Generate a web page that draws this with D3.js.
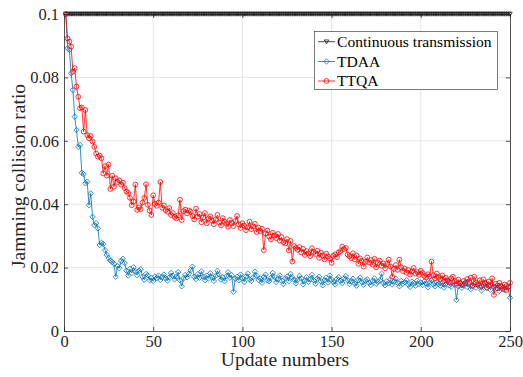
<!DOCTYPE html>
<html>
<head>
<meta charset="utf-8">
<script src="https://cdn.jsdelivr.net/npm/d3@7"></script>
<style>
  html, body { margin: 0; padding: 0; background: #fff; }
  svg { display: block; }
  svg text { font-family: "Times New Roman", "Liberation Serif", "DejaVu Serif", serif !important; }
</style>
</head>
<body>
<svg id="chart" width="523" height="377"></svg>
<script>
// Update indices 1..250 on the x axis
const updates = d3.range(1, 251);

const xTicks = [0, 50, 100, 150, 200, 250];
const yTicks = [0, 0.02, 0.04, 0.06, 0.08, 0.1];
const yTickLabels = ["0", "0.02", "0.04", "0.06", "0.08", "0.1"];

const seriesNames = ["Continuous transmission", "TDAA", "TTQA"];

// Continuous transmission: always colliding at the maximum ratio
const continuousValues = [
  0.1,0.1,0.1,0.1,0.1,0.1,0.1,0.1,0.1,0.1,0.1,0.1,0.1,0.1,0.1,0.1,0.1,0.1,0.1,0.1,0.1,0.1,0.1,0.1,0.1,
  0.1,0.1,0.1,0.1,0.1,0.1,0.1,0.1,0.1,0.1,0.1,0.1,0.1,0.1,0.1,0.1,0.1,0.1,0.1,0.1,0.1,0.1,0.1,0.1,0.1,
  0.1,0.1,0.1,0.1,0.1,0.1,0.1,0.1,0.1,0.1,0.1,0.1,0.1,0.1,0.1,0.1,0.1,0.1,0.1,0.1,0.1,0.1,0.1,0.1,0.1,
  0.1,0.1,0.1,0.1,0.1,0.1,0.1,0.1,0.1,0.1,0.1,0.1,0.1,0.1,0.1,0.1,0.1,0.1,0.1,0.1,0.1,0.1,0.1,0.1,0.1,
  0.1,0.1,0.1,0.1,0.1,0.1,0.1,0.1,0.1,0.1,0.1,0.1,0.1,0.1,0.1,0.1,0.1,0.1,0.1,0.1,0.1,0.1,0.1,0.1,0.1,
  0.1,0.1,0.1,0.1,0.1,0.1,0.1,0.1,0.1,0.1,0.1,0.1,0.1,0.1,0.1,0.1,0.1,0.1,0.1,0.1,0.1,0.1,0.1,0.1,0.1,
  0.1,0.1,0.1,0.1,0.1,0.1,0.1,0.1,0.1,0.1,0.1,0.1,0.1,0.1,0.1,0.1,0.1,0.1,0.1,0.1,0.1,0.1,0.1,0.1,0.1,
  0.1,0.1,0.1,0.1,0.1,0.1,0.1,0.1,0.1,0.1,0.1,0.1,0.1,0.1,0.1,0.1,0.1,0.1,0.1,0.1,0.1,0.1,0.1,0.1,0.1,
  0.1,0.1,0.1,0.1,0.1,0.1,0.1,0.1,0.1,0.1,0.1,0.1,0.1,0.1,0.1,0.1,0.1,0.1,0.1,0.1,0.1,0.1,0.1,0.1,0.1,
  0.1,0.1,0.1,0.1,0.1,0.1,0.1,0.1,0.1,0.1,0.1,0.1,0.1,0.1,0.1,0.1,0.1,0.1,0.1,0.1,0.1,0.1,0.1,0.1,0.1
];

const tdaaValues = [
  0.1000,0.0892,0.0887,0.0813,0.0760,0.0676,0.0634,0.0581,0.0587,0.0499,
  0.0495,0.0466,0.0471,0.0397,0.0434,0.0360,0.0334,0.0340,0.0324,0.0271,
  0.0278,0.0275,0.0255,0.0240,0.0230,0.0222,0.0218,0.0212,0.0171,0.0205,
  0.0198,0.0221,0.0228,0.0214,0.0190,0.0175,0.0196,0.0183,0.0201,0.0188,
  0.0176,0.0190,0.0195,0.0171,0.0162,0.0180,0.0176,0.0160,0.0168,0.0158,
  0.0172,0.0167,0.0175,0.0161,0.0170,0.0178,0.0166,0.0159,0.0169,0.0183,
  0.0174,0.0163,0.0171,0.0186,0.0160,0.0141,0.0166,0.0177,0.0169,0.0180,
  0.0192,0.0203,0.0171,0.0164,0.0179,0.0168,0.0188,0.0172,0.0160,0.0175,
  0.0166,0.0182,0.0170,0.0158,0.0174,0.0190,0.0178,0.0162,0.0169,0.0157,
  0.0173,0.0185,0.0168,0.0176,0.0124,0.0165,0.0171,0.0160,0.0178,0.0167,
  0.0155,0.0172,0.0181,0.0163,0.0158,0.0169,0.0187,0.0174,0.0161,0.0166,
  0.0152,0.0170,0.0178,0.0160,0.0157,0.0168,0.0183,0.0171,0.0154,0.0163,
  0.0175,0.0159,0.0148,0.0166,0.0172,0.0157,0.0180,0.0169,0.0162,0.0150,
  0.0161,0.0174,0.0166,0.0147,0.0158,0.0170,0.0155,0.0163,0.0177,0.0160,
  0.0149,0.0165,0.0171,0.0157,0.0144,0.0160,0.0168,0.0153,0.0175,0.0162,
  0.0155,0.0147,0.0164,0.0170,0.0158,0.0151,0.0166,0.0173,0.0160,0.0148,
  0.0157,0.0165,0.0150,0.0143,0.0161,0.0168,0.0154,0.0146,0.0159,0.0163,
  0.0152,0.0145,0.0158,0.0166,0.0149,0.0155,0.0160,0.0181,0.0151,0.0144,
  0.0157,0.0150,0.0162,0.0147,0.0155,0.0165,0.0152,0.0141,0.0158,0.0149,
  0.0154,0.0161,0.0146,0.0139,0.0156,0.0151,0.0143,0.0159,0.0148,0.0153,
  0.0145,0.0157,0.0150,0.0138,0.0152,0.0160,0.0147,0.0141,0.0155,0.0149,
  0.0143,0.0151,0.0137,0.0148,0.0156,0.0144,0.0140,0.0152,0.0146,0.0098,
  0.0141,0.0150,0.0136,0.0145,0.0153,0.0139,0.0147,0.0132,0.0143,0.0149,
  0.0137,0.0146,0.0140,0.0128,0.0144,0.0151,0.0135,0.0142,0.0130,0.0147,
  0.0139,0.0133,0.0145,0.0126,0.0141,0.0136,0.0129,0.0143,0.0138,0.0105
];

const ttqaValues = [
  0.1000,0.0923,0.0913,0.0897,0.0818,0.0829,0.0771,0.0739,0.0703,0.0705,
  0.0629,0.0697,0.0618,0.0608,0.0615,0.0598,0.0581,0.0560,0.0550,0.0553,
  0.0545,0.0497,0.0520,0.0490,0.0525,0.0448,0.0490,0.0455,0.0482,0.0470,
  0.0475,0.0462,0.0468,0.0451,0.0440,0.0435,0.0420,0.0397,0.0408,0.0462,
  0.0382,0.0390,0.0384,0.0405,0.0420,0.0463,0.0398,0.0380,0.0366,0.0428,
  0.0401,0.0395,0.0405,0.0470,0.0389,0.0396,0.0381,0.0376,0.0388,0.0366,
  0.0372,0.0360,0.0355,0.0365,0.0414,0.0350,0.0378,0.0383,0.0371,0.0380,
  0.0376,0.0363,0.0352,0.0386,0.0361,0.0369,0.0343,0.0358,0.0372,0.0340,
  0.0355,0.0362,0.0348,0.0337,0.0351,0.0366,0.0342,0.0333,0.0356,0.0345,
  0.0338,0.0329,0.0350,0.0341,0.0331,0.0347,0.0363,0.0336,0.0325,0.0340,
  0.0332,0.0318,0.0327,0.0345,0.0321,0.0330,0.0338,0.0312,0.0326,0.0315,
  0.0322,0.0255,0.0308,0.0317,0.0298,0.0289,0.0310,0.0301,0.0293,0.0306,
  0.0285,0.0296,0.0280,0.0276,0.0290,0.0254,0.0284,0.0219,0.0268,0.0262,
  0.0256,0.0265,0.0248,0.0259,0.0240,0.0252,0.0245,0.0236,0.0261,0.0249,
  0.0243,0.0253,0.0231,0.0247,0.0238,0.0226,0.0244,0.0235,0.0229,0.0215,
  0.0237,0.0242,0.0233,0.0248,0.0252,0.0266,0.0258,0.0262,0.0241,0.0236,
  0.0230,0.0245,0.0226,0.0238,0.0212,0.0229,0.0221,0.0203,0.0218,0.0232,
  0.0216,0.0224,0.0209,0.0228,0.0201,0.0215,0.0222,0.0206,0.0213,0.0198,
  0.0211,0.0225,0.0204,0.0171,0.0196,0.0208,0.0193,0.0225,0.0201,0.0189,
  0.0197,0.0184,0.0192,0.0178,0.0188,0.0199,0.0181,0.0186,0.0177,0.0190,
  0.0183,0.0174,0.0169,0.0179,0.0172,0.0219,0.0176,0.0165,0.0181,0.0170,
  0.0163,0.0175,0.0158,0.0168,0.0160,0.0154,0.0166,0.0171,0.0157,0.0149,
  0.0162,0.0152,0.0145,0.0158,0.0150,0.0164,0.0155,0.0168,0.0143,0.0171,
  0.0153,0.0147,0.0160,0.0142,0.0163,0.0151,0.0138,0.0156,0.0145,0.0166,
  0.0114,0.0149,0.0135,0.0152,0.0141,0.0133,0.0147,0.0129,0.0139,0.0152
];

const svg = d3.select("#chart");
const plot = { left: 64, right: 510, top: 14, bottom: 331 };

const x = d3.scaleLinear().domain([0, 250]).range([plot.left, plot.right]);
const y = d3.scaleLinear().domain([0, 0.1]).range([plot.bottom, plot.top]);

const axisColor = "#262626";
const gridColor = "#e6e6e6";
const serif = "'Times New Roman', 'Liberation Serif', 'DejaVu Serif', serif";

// Grid lines
const grid = svg.append("g").attr("class", "grid");
grid.selectAll("line.gx").data(xTicks.slice(1, -1)).join("line")
  .attr("x1", d => x(d)).attr("x2", d => x(d))
  .attr("y1", plot.top).attr("y2", plot.bottom)
  .attr("stroke", gridColor).attr("stroke-width", 1);
grid.selectAll("line.gy").data(yTicks.slice(1, -1)).join("line")
  .attr("x1", plot.left).attr("x2", plot.right)
  .attr("y1", d => y(d)).attr("y2", d => y(d))
  .attr("stroke", gridColor).attr("stroke-width", 1);

// Axes with inward ticks on all four sides
function styleAxis(g) {
  g.attr("font-family", serif).attr("font-size", 16.5);
  g.selectAll(".domain").attr("stroke", axisColor).attr("stroke-width", 0.8);
  g.selectAll(".tick line").attr("stroke", axisColor).attr("stroke-width", 0.8);
  g.selectAll(".tick text").attr("fill", axisColor);
}

svg.append("g").attr("transform", `translate(0,${plot.bottom})`)
  .call(d3.axisBottom(x).tickValues(xTicks).tickSizeInner(-4).tickSizeOuter(0).tickPadding(4))
  .call(styleAxis);
svg.append("g").attr("transform", `translate(${plot.left},0)`)
  .call(d3.axisLeft(y).tickValues(yTicks).tickFormat((d, i) => yTickLabels[i]).tickSizeInner(-4).tickSizeOuter(0).tickPadding(5))
  .call(styleAxis);
svg.append("g").attr("transform", `translate(0,${plot.top})`)
  .call(d3.axisTop(x).tickValues(xTicks).tickSizeInner(-4).tickSizeOuter(0).tickFormat(""))
  .call(styleAxis);
svg.append("g").attr("transform", `translate(${plot.right},0)`)
  .call(d3.axisRight(y).tickValues(yTicks).tickSizeInner(-4).tickSizeOuter(0).tickFormat(""))
  .call(styleAxis);

// Axis titles
svg.append("text")
  .attr("x", (plot.left + plot.right) / 2 - 2).attr("y", 366)
  .attr("text-anchor", "middle").attr("fill", axisColor)
  .attr("font-family", serif).attr("font-size", 19.5).text("Update numbers");
svg.append("text")
  .attr("transform", `translate(25,176) rotate(-90)`)
  .attr("text-anchor", "middle").attr("fill", axisColor)
  .attr("font-family", serif).attr("font-size", 19.5).text("Jamming collision ratio");

// Marker shapes
const diamond = r => `M0,${-r}L${r},0L0,${r}L${-r},0Z`;
const downTriangle = r => `M${-r},${-r * 0.8}L${r},${-r * 0.8}L0,${r}Z`;

const series = [
  { name: seriesNames[0], values: continuousValues, color: "#1a1a1a", marker: "tri" },
  { name: seriesNames[1], values: tdaaValues, color: "#0072BD", marker: "diamond" },
  { name: seriesNames[2], values: ttqaValues, color: "#FF0000", marker: "circle" }
];

const line = d3.line().x((d, i) => x(updates[i])).y(d => y(d));

function drawMarkers(g, s, pts) {
  if (s.marker === "circle") {
    g.selectAll("circle").data(pts).join("circle")
      .attr("cx", d => d[0]).attr("cy", d => d[1]).attr("r", 2.4)
      .attr("fill", "none").attr("stroke", s.color).attr("stroke-width", 0.8);
  } else {
    const shape = s.marker === "diamond" ? diamond(2.7) : downTriangle(2.2);
    g.selectAll("path.m").data(pts).join("path").attr("class", "m")
      .attr("transform", d => `translate(${d[0]},${d[1]})`)
      .attr("d", shape)
      .attr("fill", "none").attr("stroke", s.color).attr("stroke-width", 0.8);
  }
}

series.forEach(s => {
  const g = svg.append("g");
  g.append("path").datum(s.values).attr("d", line)
    .attr("fill", "none").attr("stroke", s.color).attr("stroke-width", 0.8);
  const pts = s.values.map((v, i) => [x(updates[i]), y(v)]);
  drawMarkers(g, s, pts);
});

// Legend
const legend = svg.append("g");
legend.append("rect").attr("x", 314.5).attr("y", 31.5).attr("width", 183).attr("height", 58)
  .attr("fill", "#fff").attr("stroke", axisColor).attr("stroke-width", 0.6);
const rowY = [41.7, 61.5, 81];
series.forEach((s, i) => {
  const row = legend.append("g");
  row.append("line").attr("x1", 318).attr("x2", 335).attr("y1", rowY[i]).attr("y2", rowY[i])
    .attr("stroke", s.color).attr("stroke-width", 0.8);
  drawMarkers(row, s, [[326.5, rowY[i]]]);
  row.append("text").attr("x", 337).attr("y", rowY[i] + 5.4)
    .attr("fill", "#000").attr("font-family", serif).attr("font-size", 15.6).text(s.name);
});
</script>
</body>
</html>
